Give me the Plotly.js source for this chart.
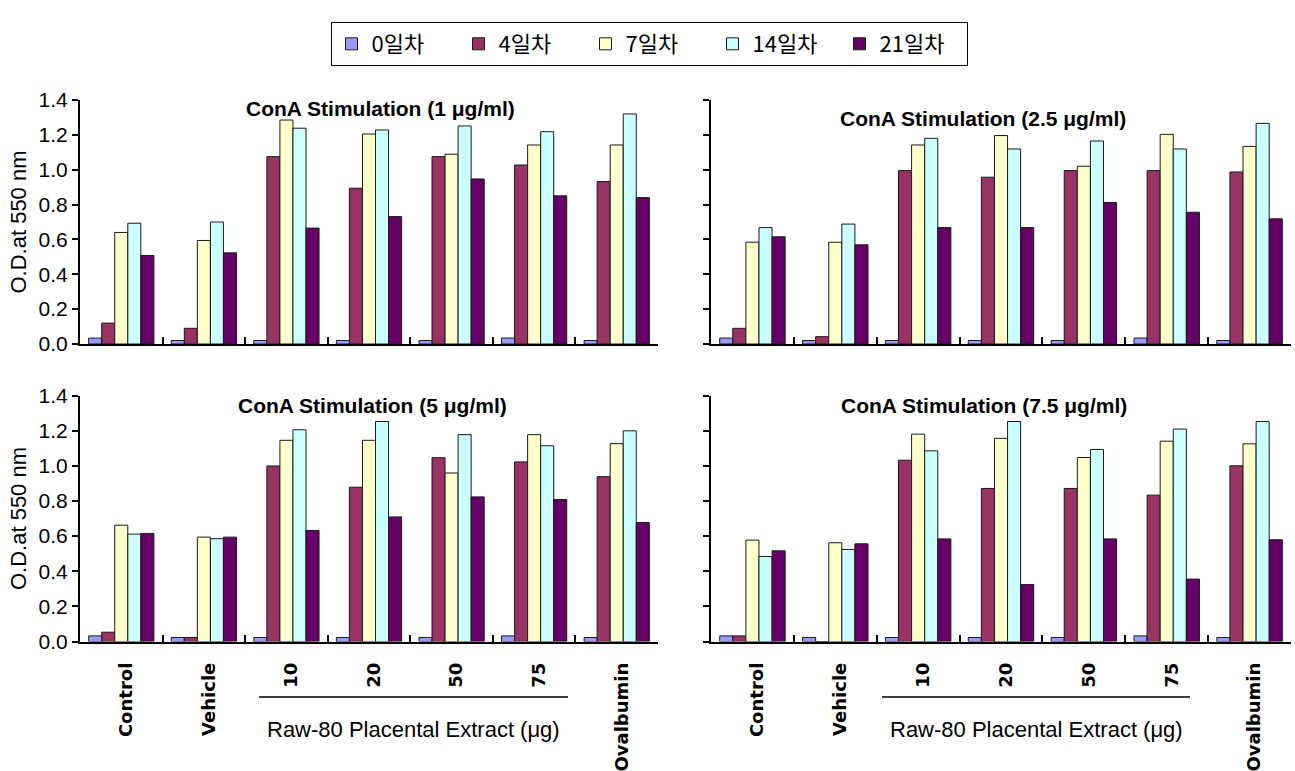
<!DOCTYPE html>
<html><head><meta charset="utf-8">
<script src="https://cdn.plot.ly/plotly-3.0.1.min.js"></script>
<style>html,body{margin:0;padding:0;background:#fff}#chart{width:1295px;height:771px}</style>
</head><body><div id="chart"></div>
<script>
// ---- data ----
const categories = ['Control', 'Vehicle', '10', '20', '50', '75', 'Ovalbumin'];
const seriesNames = ['0일차', '4일차', '7일차', '14일차', '21일차'];
const seriesColors = ['#9999FF', '#993366', '#FFFFCC', '#CCFFFF', '#660066'];
const panelTitles = ['ConA Stimulation (1 μg/ml)', 'ConA Stimulation (2.5 μg/ml)',
                     'ConA Stimulation (5 μg/ml)', 'ConA Stimulation (7.5 μg/ml)'];
const yTickVals = [0, 0.2, 0.4, 0.6, 0.8, 1.0, 1.2, 1.4];
const groupLabel = 'Raw-80 Placental Extract (μg)';
const yTitle = 'O.D.at 550 nm';

// ConA 1 ug/ml
const c1_day0  = [0.034, 0.02, 0.02, 0.02, 0.02, 0.034, 0.02];
const c1_day4  = [0.12, 0.09, 1.075, 0.894, 1.075, 1.027, 0.932];
const c1_day7  = [0.64, 0.594, 1.285, 1.205, 1.089, 1.142, 1.142];
const c1_day14 = [0.693, 0.70, 1.238, 1.228, 1.251, 1.218, 1.32];
const c1_day21 = [0.508, 0.523, 0.665, 0.731, 0.947, 0.85, 0.84];
// ConA 2.5 ug/ml
const c2_day0  = [0.034, 0.02, 0.02, 0.02, 0.02, 0.034, 0.02];
const c2_day4  = [0.09, 0.042, 0.995, 0.957, 0.995, 0.995, 0.987];
const c2_day7  = [0.584, 0.584, 1.142, 1.196, 1.02, 1.203, 1.134];
const c2_day14 = [0.668, 0.688, 1.18, 1.119, 1.165, 1.119, 1.266];
const c2_day21 = [0.615, 0.569, 0.668, 0.668, 0.812, 0.756, 0.718];
// ConA 5 ug/ml
const c3_day0  = [0.032, 0.023, 0.023, 0.023, 0.023, 0.032, 0.023];
const c3_day4  = [0.053, 0.023, 0.999, 0.878, 1.046, 1.022, 0.938];
const c3_day7  = [0.662, 0.594, 1.145, 1.145, 0.959, 1.177, 1.126];
const c3_day14 = [0.611, 0.585, 1.205, 1.252, 1.177, 1.114, 1.199];
const c3_day21 = [0.615, 0.594, 0.632, 0.709, 0.823, 0.808, 0.677];
// ConA 7.5 ug/ml
const c4_day0  = [0.032, 0.023, 0.023, 0.023, 0.023, 0.032, 0.023];
const c4_day4  = [0.032, 0, 1.032, 0.871, 0.871, 0.833, 1.0];
const c4_day7  = [0.577, 0.562, 1.18, 1.156, 1.047, 1.14, 1.125];
const c4_day14 = [0.484, 0.524, 1.085, 1.252, 1.093, 1.209, 1.252];
const c4_day21 = [0.516, 0.556, 0.584, 0.324, 0.584, 0.355, 0.579];

const panels = [
  [c1_day0, c1_day4, c1_day7, c1_day14, c1_day21],
  [c2_day0, c2_day4, c2_day7, c2_day14, c2_day21],
  [c3_day0, c3_day4, c3_day7, c3_day14, c3_day21],
  [c4_day0, c4_day4, c4_day7, c4_day14, c4_day21]
];

// ---- layout helpers ----
const W = 1295, H = 771;
const px = v => v / W;
const py = v => 1 - v / H;
const FONT = 'Liberation Sans, Arial, sans-serif';

const traces = [];
panels.forEach((series, p) => {
  const ax = p === 0 ? '' : String(p + 1);
  series.forEach((vals, s) => {
    traces.push({
      type: 'bar',
      x: categories,
      y: vals,
      name: seriesNames[s],
      legendgroup: seriesNames[s],
      showlegend: p === 0,
      xaxis: 'x' + ax,
      yaxis: 'y' + ax,
      marker: { color: seriesColors[s], line: { color: '#1a1a1a', width: 1 } },
      hoverinfo: 'x+y+name'
    });
  });
});

function xAxis(domain, anchor, labels) {
  return {
    domain: domain, anchor: anchor, type: 'category', range: [-0.5, 6.5],
    showline: true, linecolor: '#000', linewidth: 2, mirror: false,
    showgrid: false, zeroline: false,
    ticks: 'inside', tickson: 'boundaries', ticklen: 7, tickwidth: 2, tickcolor: '#000',
    showticklabels: labels, tickangle: -90, ticklabelstandoff: 12, ticklabelshift: 5,
    tickfont: { family: 'DejaVu Sans', size: 18, color: '#000', weight: 'bold' }
  };
}
function yAxis(domain, anchor, labels) {
  const a = {
    domain: domain, anchor: anchor, range: [0, 1.4],
    showline: true, linecolor: '#000', linewidth: 2,
    showgrid: false, zeroline: false,
    ticks: 'outside', ticklen: 6, tickwidth: 2, tickcolor: '#000',
    tickvals: yTickVals, tickformat: '.1f',
    showticklabels: labels,
    tickfont: { family: FONT, size: 21, color: '#000' }
  };
  if (labels) a.title = { text: yTitle, font: { family: FONT, size: 22, color: '#000' }, standoff: 6 };
  return a;
}

const leftX = [px(80), px(658)], rightX = [px(711), px(1291)];
const topY = [py(344), py(100)], botY = [py(641.5), py(395.5)];

const titlePos = [[380, 109], [983, 118], [372, 405], [984, 405]];
const annotations = panelTitles.map((t, i) => ({
  text: t, xref: 'paper', yref: 'paper', x: px(titlePos[i][0]), y: py(titlePos[i][1]),
  xanchor: 'center', yanchor: 'middle', showarrow: false,
  font: { family: FONT, size: 21, color: '#000', weight: 'bold' }
}));
annotations.push({ text: groupLabel, xref: 'paper', yref: 'paper', x: px(413), y: py(729),
  xanchor: 'center', yanchor: 'middle', showarrow: false,
  font: { family: FONT, size: 22, color: '#000' } });
annotations.push({ text: groupLabel, xref: 'paper', yref: 'paper', x: px(1036), y: py(729),
  xanchor: 'center', yanchor: 'middle', showarrow: false,
  font: { family: FONT, size: 22, color: '#000' } });

const shapes = [
  { type: 'line', xref: 'paper', yref: 'paper', x0: px(259), x1: px(568), y0: py(697), y1: py(697),
    line: { color: '#000', width: 1.5 } },
  { type: 'line', xref: 'paper', yref: 'paper', x0: px(882), x1: px(1190), y0: py(697), y1: py(697),
    line: { color: '#000', width: 1.5 } }
];

const layout = {
  width: W, height: H,
  margin: { l: 0, r: 0, t: 0, b: 0, pad: 0 },
  paper_bgcolor: '#fff', plot_bgcolor: 'rgba(0,0,0,0)',
  barmode: 'group', bargap: 0.21, bargroupgap: 0,
  font: { family: FONT, color: '#000' },
  xaxis: xAxis(leftX, 'y', false),
  yaxis: yAxis(topY, 'x', true),
  xaxis2: xAxis(rightX, 'y2', false),
  yaxis2: yAxis(topY, 'x2', false),
  xaxis3: xAxis(leftX, 'y3', true),
  yaxis3: yAxis(botY, 'x3', true),
  xaxis4: xAxis(rightX, 'y4', true),
  yaxis4: yAxis(botY, 'x4', false),
  legend: {
    orientation: 'h', x: px(649), xanchor: 'center', y: py(22), yanchor: 'top',
    bordercolor: '#000', borderwidth: 1, bgcolor: '#fff',
    font: { family: 'Noto Sans CJK KR', size: 22, color: '#000' },
    entrywidth: 82, entrywidthmode: 'pixels', traceorder: 'normal', itemclick: false
  },
  annotations: annotations,
  shapes: shapes,
  showlegend: true
};

Plotly.newPlot('chart', traces, layout, { displayModeBar: false, responsive: false });
</script>
</body></html>
